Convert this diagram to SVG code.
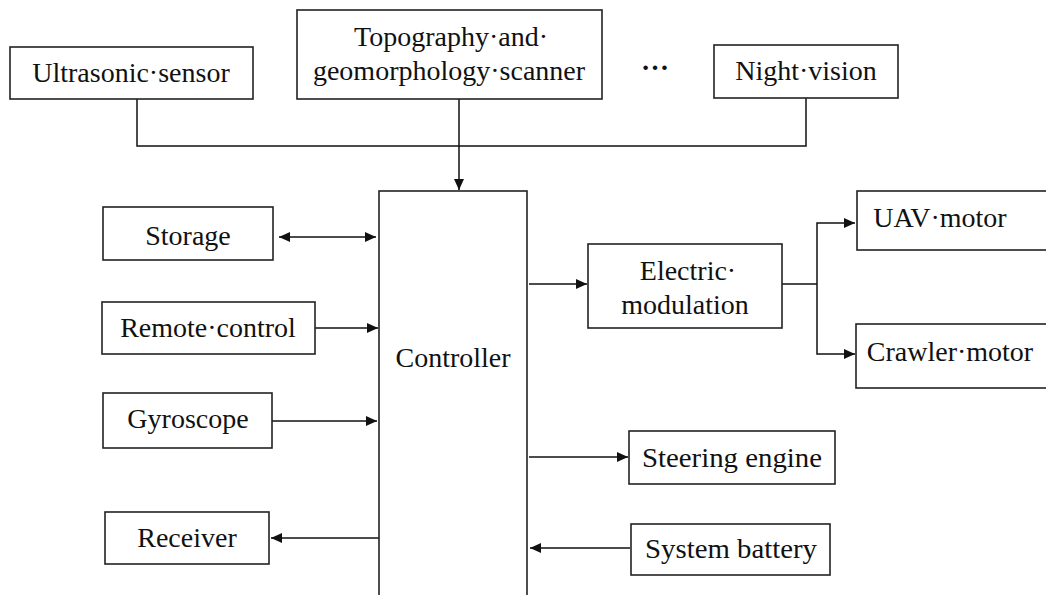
<svg xmlns="http://www.w3.org/2000/svg" width="1046" height="595" viewBox="0 0 1046 595">
<style>
.box{fill:#fff;stroke:#222;stroke-width:1.6}
.lbl{font-family:"Liberation Serif","Times New Roman",serif;font-size:28px;fill:#111;text-anchor:middle}
.ln{fill:none;stroke:#111;stroke-width:1.5}
</style>
<defs>
<marker id="ah" markerUnits="userSpaceOnUse" markerWidth="12" markerHeight="10" refX="11" refY="5" orient="auto-start-reverse">
<path d="M0,0 L11,5 L0,10 Z" fill="#111"/>
</marker>
</defs>
<rect width="1046" height="595" fill="#fff"/>
<g id="connectors">
<polyline class="ln" points="137,99 137,146 806,146 806,98"/>
<line class="ln" x1="459" y1="99" x2="459" y2="190" marker-end="url(#ah)"/>
<line class="ln" x1="279" y1="237" x2="376" y2="237" marker-start="url(#ah)" marker-end="url(#ah)"/>
<line class="ln" x1="315" y1="328" x2="378" y2="328" marker-end="url(#ah)"/>
<line class="ln" x1="272" y1="421" x2="377" y2="421" marker-end="url(#ah)"/>
<line class="ln" x1="379" y1="538" x2="271" y2="538" marker-end="url(#ah)"/>
<line class="ln" x1="529" y1="284" x2="587" y2="284" marker-end="url(#ah)"/>
<polyline class="ln" points="782,284 817,284"/>
<polyline class="ln" points="855,223 817,223 817,354 855,354" marker-start="url(#ah)" marker-end="url(#ah)"/>
<line class="ln" x1="529" y1="457" x2="628" y2="457" marker-end="url(#ah)"/>
<line class="ln" x1="630" y1="548" x2="530" y2="548" marker-end="url(#ah)"/>
</g>
<g id="ultrasonic"><rect class="box" x="10" y="47" width="243" height="52"/><text class="lbl" x="131" y="82">Ultrasonic·sensor</text></g>
<g id="topography"><rect class="box" x="297" y="10" width="305" height="89"/><text class="lbl" x="451" y="46">Topography·and·</text><text class="lbl" x="449" y="80">geomorphology·scanner</text></g>
<g id="ellipsis"><text class="lbl" x="655" y="70" font-weight="bold">…</text></g>
<g id="nightvision"><rect class="box" x="714" y="45" width="184" height="53"/><text class="lbl" x="806" y="80">Night·vision</text></g>
<g id="controller"><rect class="box" x="379" y="191" width="148" height="420"/><text class="lbl" x="453" y="367">Controller</text></g>
<g id="storage"><rect class="box" x="103" y="207" width="170" height="53"/><text class="lbl" x="188" y="245">Storage</text></g>
<g id="remote"><rect class="box" x="102" y="302" width="213" height="52"/><text class="lbl" x="208" y="337">Remote·control</text></g>
<g id="gyroscope"><rect class="box" x="103" y="393" width="169" height="55"/><text class="lbl" x="188" y="428">Gyroscope</text></g>
<g id="receiver"><rect class="box" x="105" y="512" width="164" height="52"/><text class="lbl" x="187" y="547">Receiver</text></g>
<g id="electric"><rect class="box" x="588" y="244" width="194" height="84"/><text class="lbl" x="688" y="280">Electric·</text><text class="lbl" x="685" y="314">modulation</text></g>
<g id="uav"><rect class="box" x="857" y="191" width="200" height="59"/><text class="lbl" x="940" y="227">UAV·motor</text></g>
<g id="crawler"><rect class="box" x="856" y="324" width="200" height="64"/><text class="lbl" x="950" y="361">Crawler·motor</text></g>
<g id="steering"><rect class="box" x="629" y="431" width="206" height="53"/><text class="lbl" x="732" y="467" textLength="180" lengthAdjust="spacingAndGlyphs">Steering engine</text></g>
<g id="battery"><rect class="box" x="631" y="524" width="199" height="51"/><text class="lbl" x="731" y="558" textLength="172" lengthAdjust="spacingAndGlyphs">System battery</text></g>
</svg>
